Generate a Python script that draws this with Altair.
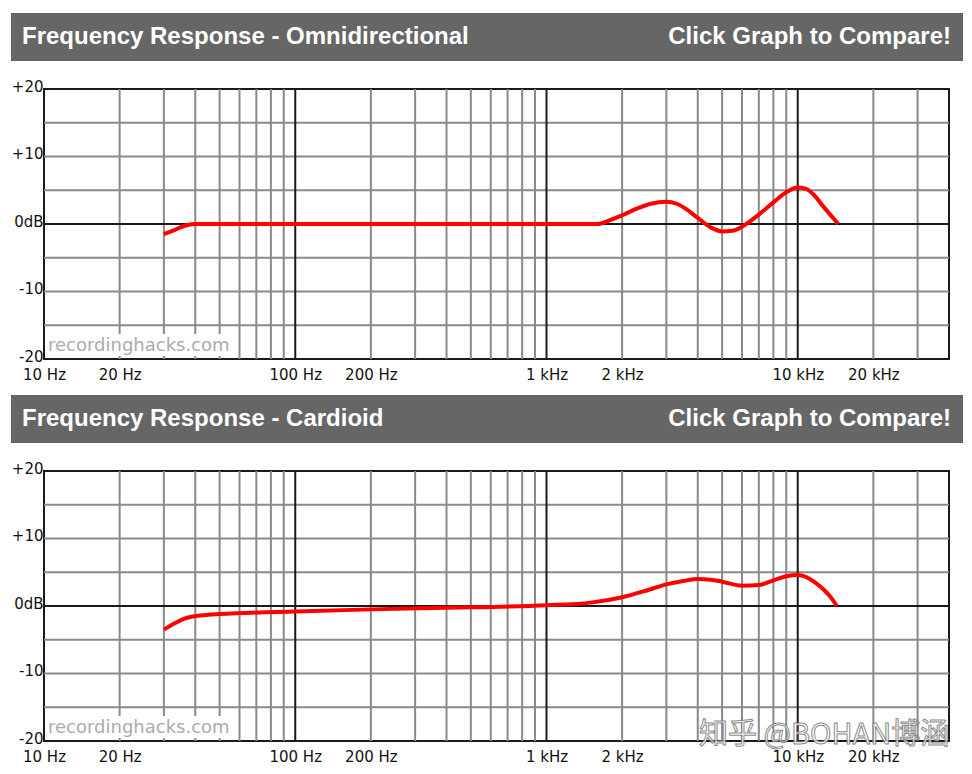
import altair as alt
import pandas as pd

# ---------------- data ----------------
omni_freq = [30, 33, 36, 40, 50, 100, 200, 500, 1000, 1600, 1800, 2000, 2300, 2600, 3000, 3300,
             3600, 4000, 4500, 5000, 5500, 6000, 7000, 8000, 9000, 10000, 10800, 11600, 12700,
             13600, 14500]
omni_db = [-1.5, -0.9, -0.3, 0, 0, 0, 0, 0, 0, 0, 0.6, 1.3, 2.3, 3.0, 3.3, 3.0,
           2.2, 0.9, -0.5, -1.1, -1.0, -0.4, 1.4, 3.2, 4.7, 5.4, 5.2, 4.3, 2.5,
           1.2, 0]

card_freq = [30, 33, 36, 40, 45, 50, 100, 200, 500, 1000, 1500, 2000, 2500, 3000, 3500, 4000,
             4500, 5000, 6000, 7000, 8000, 9000, 10000, 10800, 11600, 12700, 13600, 14300]
card_db = [-3.5, -2.6, -1.9, -1.5, -1.3, -1.2, -0.8, -0.5, -0.2, 0.1, 0.5, 1.3, 2.3, 3.2, 3.7, 4.0,
           3.9, 3.6, 3.0, 3.1, 3.8, 4.4, 4.6, 4.3, 3.6, 2.4, 1.2, 0]

minor_freq = [20, 30, 40, 50, 60, 70, 80, 90,
              200, 300, 400, 500, 600, 700, 800, 900,
              2000, 3000, 4000, 5000, 6000, 7000, 8000, 9000,
              20000, 30000]
major_freq = [100, 1000, 10000]
minor_db = [-15, -10, -5, 5, 10, 15]
major_db = [0]

x_tick_values = [10, 20, 100, 200, 1000, 2000, 10000, 20000]
y_tick_values = [-20, -10, 0, 10, 20]

titles = ["Frequency Response - Omnidirectional", "Frequency Response - Cardioid"]
right_title = "Click Graph to Compare!"
site_mark = "recordinghacks.com"
cn_mark = "知乎 @BOHAN博涵"

W, H = 905, 270

XS = alt.Scale(type="log", domain=[10, 40000], nice=False)
YS = alt.Scale(domain=[-20, 20], nice=False, zero=False)

XAX = alt.Axis(values=x_tick_values,
               labelExpr="datum.value >= 1000 ? (datum.value/1000) + ' kHz' : datum.value + ' Hz'",
               grid=False, ticks=False, domain=False, labelPadding=8, labelFlush=False,
               labelOverlap=False, labelBound=False, labelBaseline="top", title=None, zindex=1)
YAX = alt.Axis(values=y_tick_values,
               labelExpr="datum.value == 0 ? '0dB' : (datum.value > 0 ? '+' + datum.value : '' + datum.value)",
               grid=False, ticks=False, domain=False, labelPadding=1, labelFlush=False,
               labelOverlap=False, labelBound=False, labelBaseline="alphabetic", labelOffset=2,
               title=None, zindex=1)

one = pd.DataFrame({"k": [0]})


def panel(title, freq, db, cn=False):
    # invisible frame that fixes the panel's extent (header top to next header)
    frame = alt.Chart(one).mark_rect(fill="white", opacity=0).encode(
        x=alt.value(-33), x2=alt.value(919), y=alt.value(-76), y2=alt.value(304))
    header = alt.Chart(one).mark_rect(fill="#666666").encode(
        x=alt.value(-33), x2=alt.value(919), y=alt.value(-76), y2=alt.value(-28))
    htxt = alt.Chart(one).mark_text(align="left", baseline="alphabetic", font="Liberation Sans",
                                    fontWeight="bold", fontSize=24, color="white").encode(
        x=alt.value(-22), y=alt.value(-45), text=alt.value(title))
    rtxt = alt.Chart(one).mark_text(align="right", baseline="alphabetic", font="Liberation Sans",
                                    fontWeight="bold", fontSize=24, color="white").encode(
        x=alt.value(907), y=alt.value(-45), text=alt.value(right_title))

    vminor = alt.Chart(pd.DataFrame({"f": minor_freq})).mark_rule(
        color="#8a8a8a", strokeWidth=2).encode(x=alt.X("f:Q", scale=XS, axis=XAX))
    hminor = alt.Chart(pd.DataFrame({"d": minor_db})).mark_rule(
        color="#8a8a8a", strokeWidth=2).encode(y=alt.Y("d:Q", scale=YS, axis=YAX))
    vmajor = alt.Chart(pd.DataFrame({"f": major_freq})).mark_rule(
        color="#1a1a1a", strokeWidth=2).encode(x=alt.X("f:Q", scale=XS, axis=XAX))
    hmajor = alt.Chart(pd.DataFrame({"d": major_db})).mark_rule(
        color="#1a1a1a", strokeWidth=2).encode(y=alt.Y("d:Q", scale=YS, axis=YAX))

    wbox = alt.Chart(one).mark_rect(fill="white").encode(
        x=alt.value(1), x2=alt.value(188), y=alt.value(245), y2=alt.value(267))
    wtxt = alt.Chart(one).mark_text(align="left", baseline="alphabetic", font="DejaVu Sans",
                                    fontSize=18, color="#ababab").encode(
        x=alt.value(4), y=alt.value(262), text=alt.value(site_mark))

    curve = alt.Chart(pd.DataFrame({"f": freq, "d": db})).mark_line(
        color="#ff0000", strokeWidth=4, interpolate="monotone").encode(
        x=alt.X("f:Q", scale=XS, axis=XAX),
        y=alt.Y("d:Q", scale=YS, axis=YAX))

    layers = [frame, header, htxt, rtxt, vminor, hminor, vmajor, hmajor, wbox, wtxt, curve]
    if cn:
        cnt = alt.Chart(one).mark_text(align="left", baseline="alphabetic",
                                       font="Noto Sans CJK SC", fontSize=29, fill="white",
                                       stroke="#777777", strokeWidth=1, opacity=0.85).encode(
            x=alt.value(655), y=alt.value(273), text=alt.value(cn_mark))
        layers.append(cnt)
    return alt.layer(*layers).properties(width=W, height=H)


chart = alt.vconcat(
    panel(titles[0], omni_freq, omni_db),
    panel(titles[1], card_freq, card_db, cn=True),
    spacing=0,
).properties(
    padding={"left": 2, "top": 4, "right": 0, "bottom": 0},
    background="white",
).configure_view(
    stroke="#1a1a1a", strokeWidth=2
).configure_axis(
    labelFont="DejaVu Sans", labelFontSize=15, labelColor="#111111"
)

chart.save("out.html", embed_options={"renderer": "svg", "actions": False})
